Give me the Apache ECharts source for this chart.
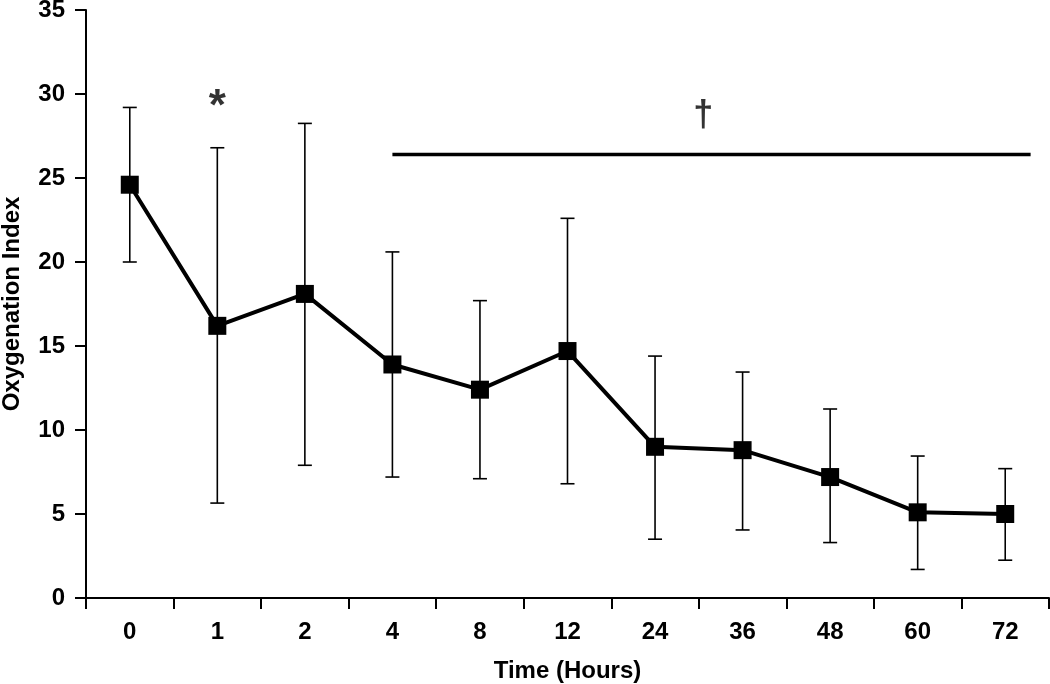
<!DOCTYPE html>
<html>
<head>
<meta charset="utf-8">
<script src="https://cdn.jsdelivr.net/npm/echarts@6/dist/echarts.min.js"></script>
<style>html,body{margin:0;padding:0;background:#fff;}#c{width:1050px;height:684px;}</style>
</head>
<body>
<div id="c"></div>
<script>
var categories = ['0', '1', '2', '4', '8', '12', '24', '36', '48', '60', '72'];
var meanValues = [24.6, 16.2, 18.1, 13.9, 12.4, 14.7, 9.0, 8.8, 7.2, 5.1, 5.0];
var errLow = [20.0, 5.65, 7.9, 7.2, 7.1, 6.8, 3.5, 4.05, 3.3, 1.7, 2.25];
var errHigh = [29.2, 26.8, 28.25, 20.6, 17.7, 22.6, 14.4, 13.45, 11.25, 8.45, 7.7];
var yTicks = { min: 0, max: 35, interval: 5 };
var sigLine = [[3, 26.4], [10.29, 26.4]];
var starMark = [[1, 29.2, '*']];
var daggerMark = [[6.55, 28.7, '†']];

var font = '"Liberation Sans", Arial, Helvetica, sans-serif';
var errData = categories.map(function (c, i) { return [i, errLow[i], errHigh[i]]; });

var labelStyle = function (size) {
  return { show: true, position: 'inside', formatter: function (p) { return p.value[2]; }, fontFamily: font, fontWeight: 'bold', fontSize: size, color: '#000' };
};

var chart = echarts.init(document.getElementById('c'));
chart.setOption({
  backgroundColor: '#fff',
  animation: false,
  grid: { left: 86, right: 1, top: 10, bottom: 86, containLabel: false, outerBoundsMode: 'none' },
  xAxis: [{
    type: 'category',
    data: categories,
    boundaryGap: true,
    name: 'Time (Hours)',
    nameLocation: 'middle',
    nameGap: 61,
    nameTextStyle: { fontFamily: font, fontWeight: 'bold', fontSize: 24, color: '#000' },
    axisLine: { onZero: false, lineStyle: { color: '#000', width: 2 } },
    axisTick: { show: true, inside: false, length: 11, lineStyle: { color: '#000', width: 2 }, alignWithLabel: false },
    axisLabel: { fontFamily: font, fontWeight: 'bold', fontSize: 24, color: '#000', margin: 22 },
    splitLine: { show: false }
  }, {
    type: 'value',
    min: -0.5, max: 10.5,
    show: false
  }],
  yAxis: {
    type: 'value',
    min: yTicks.min, max: yTicks.max, interval: yTicks.interval,
    name: 'Oxygenation Index',
    nameLocation: 'middle',
    nameGap: 62,
    nameRotate: 90,
    nameTextStyle: { fontFamily: font, fontWeight: 'bold', fontSize: 24, color: '#000' },
    axisLine: { show: true, onZero: false, lineStyle: { color: '#000', width: 2 } },
    axisTick: { show: true, inside: false, length: 11, lineStyle: { color: '#000', width: 2 } },
    axisLabel: { fontFamily: font, fontWeight: 'bold', fontSize: 24, color: '#000', margin: 21 },
    splitLine: { show: false }
  },
  series: [{
    type: 'custom',
    xAxisIndex: 0,
    data: errData,
    encode: { x: 0, y: [1, 2] },
    z: 2,
    renderItem: function (params, api) {
      var x = api.value(0);
      var lo = api.coord([x, api.value(1)]);
      var hi = api.coord([x, api.value(2)]);
      var hw = 7;
      var st = { stroke: '#000', lineWidth: 1.6 };
      return {
        type: 'group',
        children: [
          { type: 'line', shape: { x1: lo[0], y1: lo[1], x2: hi[0], y2: hi[1] }, style: st },
          { type: 'line', shape: { x1: lo[0] - hw, y1: lo[1], x2: lo[0] + hw, y2: lo[1] }, style: st },
          { type: 'line', shape: { x1: hi[0] - hw, y1: hi[1], x2: hi[0] + hw, y2: hi[1] }, style: st }
        ]
      };
    }
  }, {
    type: 'line',
    xAxisIndex: 0,
    data: meanValues,
    symbol: 'rect',
    symbolSize: 18,
    z: 3,
    lineStyle: { color: '#000', width: 4 },
    itemStyle: { color: '#000' }
  }, {
    type: 'line',
    xAxisIndex: 1,
    data: sigLine,
    symbol: 'none',
    lineStyle: { color: '#000', width: 3.5 },
    z: 2
  }, {
    type: 'scatter',
    xAxisIndex: 1,
    data: starMark,
    symbolSize: 0,
    label: labelStyle(44)
  }, {
    type: 'scatter',
    xAxisIndex: 1,
    data: daggerMark,
    symbolSize: 0,
    label: labelStyle(36)
  }]
});
</script>
</body>
</html>
